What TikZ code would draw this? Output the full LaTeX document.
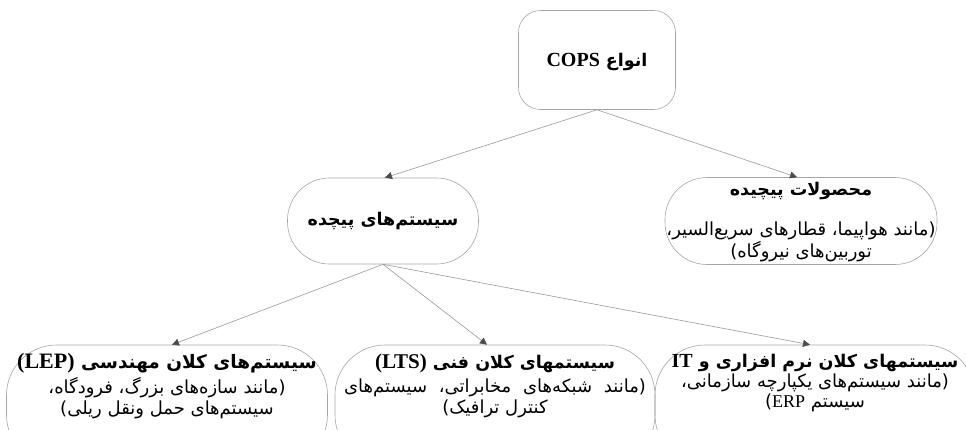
\documentclass[tikz,border=0pt]{standalone}
\usepackage{fontspec}
\newfontfamily\fa[Script=Arabic]{DejaVu Sans}
\newfontfamily\lt{Liberation Serif}
\usetikzlibrary{arrows.meta}
\TeXXeTstate=1

\begin{document}
\begin{tikzpicture}[x=1pt, y=-1pt,
  box/.style={draw=gray!70, line width=0.6pt, rounded corners=42pt, inner sep=0pt},
  hd/.style={font=\fa\bfseries\fontsize{17.5}{20}\selectfont, inner sep=0pt},
  tx/.style={font=\fa\fontsize{18}{21}\selectfont, align=center, inner sep=0pt},
  arr/.style={draw=gray!80, line width=0.6pt, -{Triangle[length=7pt, width=7pt, color=black!70]}}]
  \useasboundingbox (0,0) rectangle (966,429);
  \node[box, rounded corners=22pt, minimum width=157pt, minimum height=99pt] (cops) at (597,60) {};
  \node[hd] (copst) at (597,62) {\beginR انواع {\lt\bfseries\fontsize{20}{20}\selectfont\beginL COPS\endL}\endR};
  \node[box, minimum width=272pt, minimum height=87pt] (prod) at (801,221) {};
  \node[hd] (prodh) at (801,191) {\beginR محصولات پیچیده\endR};
  \node[tx, font=\fa\fontsize{18}{18}\selectfont] (prodb) at (801,242) {\beginR (\kern0pt\relax مانند هواپیما، قطارهای سریع‌السیر،\endR\\ \beginR توربین‌های نیروگاه\kern0pt)\endR};
  \node[box, minimum width=191pt, minimum height=86pt] (sys) at (383,221) {};
  \node[hd] (syst) at (383,221) {\beginR سیستم‌های پیچده\endR};
  \node[box, rounded corners=50pt, minimum width=321pt, minimum height=120pt] (lep) at (167,405) {};
  \node[hd, font=\fa\bfseries\fontsize{18.5}{20}\selectfont] (leph) at (167,363) {\beginR سیستم‌های کلان مهندسی {\lt\bfseries\fontsize{22}{22}\selectfont\beginL (LEP)\endL}\endR};
  \node[tx] (lepb) at (167,398) {\beginR (\kern0pt\relax مانند سازه‌های بزرگ، فرودگاه،\endR\\ \beginR سیستم‌های حمل ونقل ریلی\kern0pt)\endR};
  \node[box, rounded corners=50pt, minimum width=320pt, minimum height=120pt] (lts) at (495,405) {};
  \node[hd] (ltsh) at (495,363) {\beginR سیستمهای کلان فنی {\lt\bfseries\fontsize{21}{21}\selectfont\beginL (LTS)\endL}\endR};
  \node[tx] (ltsb) at (495,398) {\beginR (\kern0pt\relax مانند\hspace{6pt} شبکه‌های\hspace{6pt} مخابراتی،\hspace{6pt} سیستم‌های\endR\\ \beginR کنترل ترافیک\kern0pt)\endR};
  \node[box, rounded corners=50pt, minimum width=320pt, minimum height=120pt] (it) at (815,405) {};
  \node[hd] (ith) at (815,363) {\beginR سیستمهای کلان نرم افزاری و {\lt\bfseries\fontsize{20}{20}\selectfont\beginL IT\endL}\endR};
  \node[tx, font=\fa\fontsize{18}{20}\selectfont] (itb) at (815,393) {\beginR (\kern0pt\relax مانند سیستم‌های یکپارچه سازمانی،\endR\\ \beginR سیستم {\lt\beginL ERP\endL}\kern0pt)\endR};
  \draw[arr] (cops.south) -- ([xshift=-4pt]prod.north);
  \draw[arr] (cops.south) -- ([xshift=2pt]sys.north);
  \draw[arr] (sys.south) -- ([xshift=5pt]lep.north);
  \draw[arr] (sys.south) -- ([xshift=-8pt]lts.north);
  \draw[arr] (sys.south) -- ([xshift=-5pt]it.north);
\end{tikzpicture}
\end{document}
